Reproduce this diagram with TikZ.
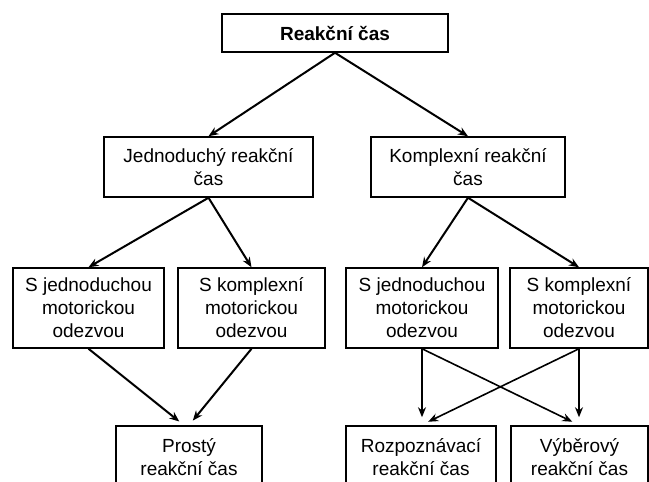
\documentclass[tikz,border=0pt]{standalone}
\usepackage{fontspec}
\setmainfont{Liberation Sans}
\usetikzlibrary{arrows.meta}

\begin{document}
\begin{tikzpicture}[x=1pt,y=-1pt,
        box/.style={draw, line width=1.5pt, align=center, inner sep=0pt,
          font=\fontsize{19}{23}\selectfont},
        arr/.style={-{Stealth[length=10pt,width=8pt]}, line width=2pt}]
            \clip (0,0) rectangle (649,482);

            \node[box, minimum width=226, minimum height=38, font=\fontsize{19}{23}\selectfont\bfseries] (reak) at (335,33) {Reakční čas};

            \node[box, minimum width=209, minimum height=60] (jedn) at (208.5,167) {Jednoduchý reakční\\čas};
            \node[box, minimum width=194, minimum height=60] (kompl) at (468,167) {Komplexní reakční\\čas};

            \node[box, minimum width=151, minimum height=80] (jm1) at (88.5,308) {S jednoduchou\\motorickou\\odezvou};
            \node[box, minimum width=147, minimum height=80] (km1) at (251.5,308) {S komplexní\\motorickou\\odezvou};
            \node[box, minimum width=152, minimum height=80] (jm2) at (422,308) {S jednoduchou\\motorickou\\odezvou};
            \node[box, minimum width=138, minimum height=80] (km2) at (579,308) {S komplexní\\motorickou\\odezvou};

            \node[box, minimum width=146, minimum height=62] (prosty) at (189,457) {Prostý\\reakční čas};
            \node[box, minimum width=150, minimum height=62] (rozp) at (421,457) {Rozpoznávací\\reakční čas};
            \node[box, minimum width=137, minimum height=62] (vyber) at (579.5,457) {Výběrový\\reakční čas};

            \draw[arr] (reak.south) -- (jedn.north);
            \draw[arr] (reak.south) -- (kompl.north);

            \draw[arr] (jedn.south) -- (jm1.north);
            \draw[arr] (jedn.south) -- (km1.north);
            \draw[arr] (kompl.south) -- (jm2.north);
            \draw[arr] (kompl.south) -- (km2.north);

            \draw[arr, shorten >=6pt] (jm1.south) -- ([xshift=-5pt]prosty.north);
            \draw[arr, shorten >=6pt] (km1.south) -- (prosty.north);

            \draw[arr, line width=2.4pt, shorten >=8pt] (jm2.south) -- (jm2.south |- rozp.north);
            \draw[arr, line width=2.4pt, shorten >=8pt] (km2.south) -- (km2.south |- vyber.north);
            \draw[arr, line width=1.6pt, shorten >=8pt] (jm2.south) -- (vyber.north);
            \draw[arr, line width=1.6pt, shorten >=8pt] (km2.south) -- (rozp.north);
        \end{tikzpicture}
\end{document}
